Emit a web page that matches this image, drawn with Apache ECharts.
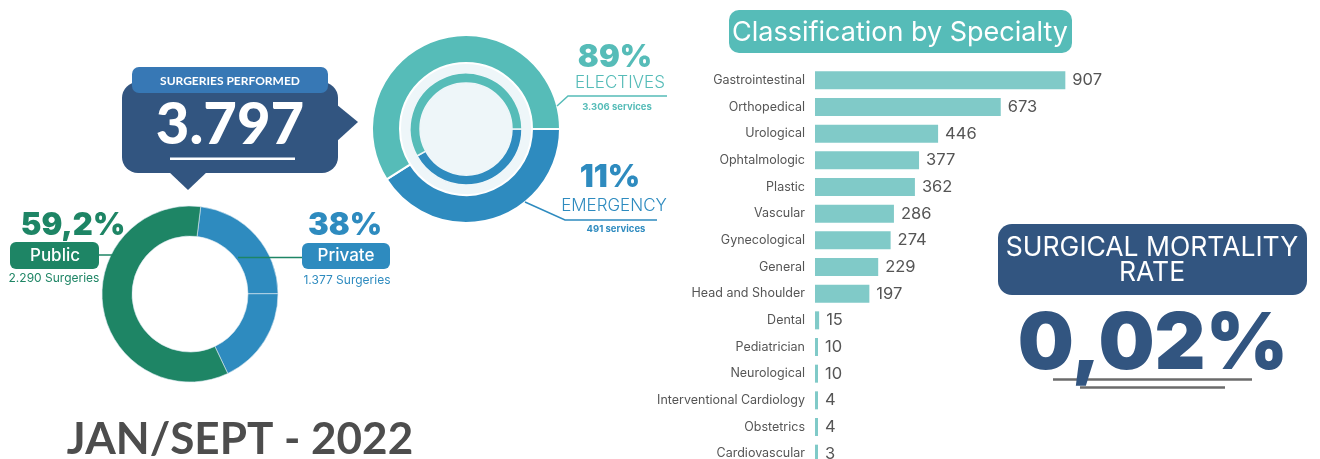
<!DOCTYPE html>
<html>
<head>
<meta charset="utf-8">
<script src="https://cdn.jsdelivr.net/npm/echarts@6/dist/echarts.min.js"></script>
<style>
  html, body { margin: 0; padding: 0; background: #ffffff; }
  #chart { width: 1320px; height: 459px; }
</style>
</head>
<body>
<div id="chart"></div>
<script>
// Specialty breakdown (bar list on the right)
const SPECIALTIES = [
  "Gastrointestinal", "Orthopedical", "Urological", "Ophtalmologic", "Plastic",
  "Vascular", "Gynecological", "General", "Head and Shoulder", "Dental",
  "Pediatrician", "Neurological", "Interventional Cardiology", "Obstetrics", "Cardiovascular"
];
const SPECIALTY_COUNTS = [907, 673, 446, 377, 362, 286, 274, 229, 197, 15, 10, 10, 4, 4, 3];

// Electives vs emergency ring (arc shares as drawn in the infographic)
const CARE_NAMES = ["Emergency", "Electives"];
const CARE_OUTER_ARC = [41, 59];
const CARE_INNER_ARC = [42, 58];
const CARE_PCT = ["11%", "89%"];
const CARE_LABELS = ["EMERGENCY", "ELECTIVES"];
const CARE_SERVICES = ["491 services", "3.306 services"];

// Public vs private ring
const SECTOR_NAMES = ["Private", "Private ", "Public"];
const SECTOR_ARC = [23, 18, 59];
const SECTOR_PCT = ["38%", "59,2%"];
const SECTOR_SURGERIES = ["1.377 Surgeries", "2.290 Surgeries"];

const TOTAL_SURGERIES = "3.797";
const MORTALITY_RATE = "0,02%";
const PERIOD = "JAN/SEPT - 2022";

const TEAL = "#56bcb8";
const BLUE = "#2e8bbf";
const GREEN = "#1e8565";
const NAVY = "#325580";
const MONT = "Inter, 'Noto Sans', sans-serif";
const LATO = "Lato, 'Noto Sans', sans-serif";

const CARE_CENTER = [466, 129];
const SECTOR_CENTER = [190, 294];

function txt(text, x, y, font, fill, align, extra) {
  return Object.assign({
    type: "text", z: 50,
    style: { text, x, y, font, fill, textAlign: align || "center", textVerticalAlign: "middle" }
  }, extra || {});
}

const ch = echarts.init(document.getElementById("chart"));

ch.setOption({
  animation: false,
  backgroundColor: "#ffffff",
  grid: { left: 815, top: 67, width: 276, height: 400, outerBoundsMode: "none" },
  xAxis: { type: "value", min: 0, max: 1000, show: false },
  yAxis: {
    type: "category",
    data: SPECIALTIES,
    inverse: true,
    axisLine: { show: false },
    axisTick: { show: false },
    splitLine: { show: false },
    axisLabel: { color: "#555555", fontSize: 12.5, margin: 10, fontFamily: MONT }
  },
  series: [
    {
      type: "bar",
      data: SPECIALTY_COUNTS,
      barWidth: 18,
      barMinHeight: 3,
      itemStyle: { color: "#80cac8" },
      label: { show: true, position: "right", distance: 7, color: "#555555", fontSize: 16.5, fontFamily: MONT },
      silent: true
    },
    {
      type: "pie",
      center: CARE_CENTER,
      radius: [66, 94],
      startAngle: 0,
      clockwise: true,
      silent: true,
      label: { show: false },
      itemStyle: { borderColor: "#ffffff", borderWidth: 2 },
      data: CARE_NAMES.map((n, i) => ({ name: n, value: CARE_OUTER_ARC[i], itemStyle: { color: i === 0 ? BLUE : TEAL } }))
    },
    {
      type: "pie",
      center: CARE_CENTER,
      radius: [46, 56],
      startAngle: 0,
      clockwise: true,
      silent: true,
      label: { show: false },
      itemStyle: { borderColor: "#eef6f9", borderWidth: 1.5 },
      data: CARE_NAMES.map((n, i) => ({ name: n, value: CARE_INNER_ARC[i], itemStyle: { color: i === 0 ? BLUE : TEAL } }))
    },
    {
      type: "pie",
      center: SECTOR_CENTER,
      radius: [58, 88],
      startAngle: 83,
      clockwise: true,
      silent: true,
      label: { show: false },
      itemStyle: { borderColor: "#dbe9f2", borderWidth: 0.6 },
      data: SECTOR_NAMES.map((n, i) => ({ name: n, value: SECTOR_ARC[i], itemStyle: { color: i < 2 ? BLUE : GREEN } }))
    }
  ],
  graphic: { elements: [
    // light disc behind the electives ring
    { type: "circle", z: -10, shape: { cx: CARE_CENTER[0], cy: CARE_CENTER[1], r: 66 }, style: { fill: "#eef6f9" } },

    // "surgeries performed" speech bubble
    { type: "polygon", z: 10, shape: { points: [[336, 104], [358, 122], [336, 142]] }, style: { fill: NAVY } },
    { type: "polygon", z: 10, shape: { points: [[168, 171], [188, 190], [208, 171]] }, style: { fill: NAVY } },
    { type: "rect", z: 11, shape: { x: 122, y: 82, width: 216, height: 91, r: 16 }, style: { fill: NAVY } },
    { type: "rect", z: 12, shape: { x: 132, y: 67, width: 196, height: 26, r: 7 }, style: { fill: "#3778b5" } },
    txt("SURGERIES PERFORMED", 230, 81, "bold 12px " + LATO, "#ffffff"),
    txt(TOTAL_SURGERIES, 230, 125, "900 58px " + LATO, "#ffffff"),
    { type: "rect", z: 50, shape: { x: 170, y: 157.5, width: 125, height: 2.5 }, style: { fill: "#ffffff" } },

    // electives / emergency callouts
    { type: "polyline", z: 20, shape: { points: [[557, 106], [568, 96], [667, 96]] }, style: { stroke: TEAL, lineWidth: 1.5, fill: null } },
    txt(CARE_PCT[1], 615, 58, "900 31px " + MONT, TEAL),
    txt(CARE_LABELS[1], 620, 83, "300 17px " + MONT, TEAL),
    txt(CARE_SERVICES[1], 617, 107, "bold 9.5px " + MONT, TEAL),
    { type: "polyline", z: 20, shape: { points: [[525, 202], [565, 220], [657, 220]] }, style: { stroke: BLUE, lineWidth: 1.5, fill: null } },
    txt(CARE_PCT[0], 610, 178, "900 31px " + MONT, BLUE),
    txt(CARE_LABELS[0], 614, 206, "300 17px " + MONT, BLUE),
    txt(CARE_SERVICES[0], 616, 229, "bold 9.5px " + MONT, BLUE),

    // public / private callouts
    txt(SECTOR_PCT[1], 73, 226, "900 31px " + MONT, GREEN),
    { type: "line", z: 5, shape: { x1: 99, y1: 255, x2: 115, y2: 255 }, style: { stroke: GREEN, lineWidth: 1.5 } },
    { type: "rect", z: 20, shape: { x: 10, y: 242, width: 89, height: 27, r: 6 }, style: { fill: GREEN } },
    txt("Public", 55, 256, "500 17px " + MONT, "#ffffff"),
    txt(SECTOR_SURGERIES[1], 54, 278, "12px " + MONT, GREEN),
    txt(SECTOR_PCT[0], 345, 226, "900 31px " + MONT, BLUE),
    { type: "line", z: 100, shape: { x1: 238, y1: 257.5, x2: 302, y2: 257.5 }, style: { stroke: GREEN, lineWidth: 1.5 } },
    { type: "rect", z: 20, shape: { x: 302, y: 243, width: 88, height: 26, r: 6 }, style: { fill: BLUE } },
    txt("Private", 346, 256, "500 17px " + MONT, "#ffffff"),
    txt(SECTOR_SURGERIES[0], 347, 280, "12px " + MONT, BLUE),

    // period
    txt(PERIOD, 240, 440, "bold 44px " + LATO, "#4d4d4d"),

    // specialty title
    { type: "rect", z: 20, shape: { x: 729, y: 10, width: 343, height: 43, r: 10 }, style: { fill: TEAL } },
    txt("Classification by Specialty", 900, 33, "27px " + MONT, "#ffffff"),

    // mortality
    { type: "rect", z: 20, shape: { x: 998, y: 224, width: 309, height: 71, r: 14 }, style: { fill: NAVY } },
    txt("SURGICAL MORTALITY", 1152, 248, "26.5px " + MONT, "#ffffff"),
    txt("RATE", 1152, 273, "26.5px " + MONT, "#ffffff"),
    { type: "line", z: 10, shape: { x1: 1053, y1: 379.5, x2: 1252, y2: 379.5 }, style: { stroke: "#6b6b6b", lineWidth: 2.5 } },
    { type: "line", z: 10, shape: { x1: 1080, y1: 387.5, x2: 1225, y2: 387.5 }, style: { stroke: "#6b6b6b", lineWidth: 2.5 } },
    txt(MORTALITY_RATE, 1153, 345, "900 79px " + MONT, NAVY)
  ] }
});
</script>
</body>
</html>
